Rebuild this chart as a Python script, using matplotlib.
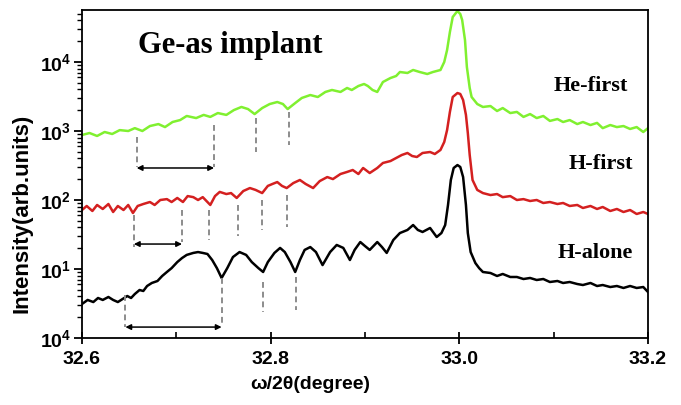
import matplotlib
matplotlib.use('Agg')
import matplotlib.pyplot as plt
from matplotlib.ticker import FixedLocator, LogLocator, NullFormatter, MultipleLocator

plt.rcParams['font.family'] = ['Liberation Sans', 'DejaVu Sans']
plt.rcParams['font.weight'] = 'bold'
plt.rcParams['mathtext.fontset'] = 'custom'
plt.rcParams['mathtext.bf'] = 'Liberation Sans:bold'
plt.rcParams['mathtext.rm'] = 'Liberation Sans:bold'

# He-first (green)
he_x = [32.600, 32.608, 32.616, 32.624, 32.632, 32.640, 32.649, 32.656, 32.664, 32.672,
        32.681, 32.688, 32.696, 32.704, 32.711, 32.721, 32.729, 32.736, 32.744, 32.753,
        32.761, 32.769, 32.776, 32.783, 32.791, 32.799, 32.807, 32.813, 32.818, 32.826,
        32.833, 32.842, 32.850, 32.858, 32.865, 32.874, 32.881, 32.886, 32.893, 32.899,
        32.903, 32.908, 32.913, 32.919, 32.927, 32.933, 32.937, 32.945, 32.951, 32.958,
        32.966, 32.972, 32.980, 32.984, 32.987, 32.990, 32.993, 32.998, 33.001, 33.003,
        33.006, 33.008, 33.011, 33.013, 33.019, 33.025, 33.033, 33.040, 33.046, 33.054,
        33.061, 33.068, 33.075, 33.082, 33.089, 33.096, 33.104, 33.110, 33.117, 33.125,
        33.131, 33.139, 33.146, 33.152, 33.160, 33.167, 33.174, 33.181, 33.188, 33.195,
        33.200]
he_y = [875, 935, 847, 967, 905, 1030, 1000, 1100, 1000, 1180,
        1260, 1140, 1350, 1440, 1650, 1540, 1710, 1600, 1820, 1710,
        2010, 2230, 2080, 1760, 2150, 2460, 2630, 2460, 2080, 2540,
        3010, 3320, 3110, 3680, 3930, 3680, 4200, 3930, 4490, 4800,
        4490, 3930, 3680, 5130, 5860, 6270, 7160, 6930, 7660, 7160,
        6700, 7160, 7660, 10000, 14900, 27200, 44900, 54800, 49600, 40600,
        20800, 8460, 4200, 3110, 2460, 2230, 2300, 1950, 2150, 1820,
        1890, 1600, 1760, 1540, 1650, 1400, 1490, 1350, 1440, 1260,
        1350, 1220, 1310, 1100, 1220, 1140, 1180, 1070, 1140, 967,
        1100]

# H-first (red)
hf_x = [32.600, 32.605, 32.611, 32.616, 32.622, 32.628, 32.633, 32.638, 32.644, 32.649,
        32.654, 32.659, 32.665, 32.672, 32.677, 32.683, 32.690, 32.695, 32.701, 32.707,
        32.712, 32.718, 32.723, 32.728, 32.736, 32.741, 32.746, 32.753, 32.758, 32.764,
        32.771, 32.778, 32.784, 32.791, 32.797, 32.802, 32.807, 32.812, 32.817, 32.824,
        32.831, 32.837, 32.845, 32.852, 32.860, 32.866, 32.874, 32.881, 32.887, 32.893,
        32.898, 32.905, 32.913, 32.919, 32.927, 32.933, 32.939, 32.945, 32.950, 32.955,
        32.961, 32.969, 32.974, 32.980, 32.984, 32.987, 32.990, 32.993, 32.998, 33.001,
        33.004, 33.007, 33.009, 33.011, 33.014, 33.019, 33.025, 33.033, 33.040, 33.046,
        33.054, 33.061, 33.068, 33.075, 33.082, 33.089, 33.096, 33.104, 33.110, 33.117,
        33.125, 33.131, 33.139, 33.146, 33.152, 33.160, 33.167, 33.174, 33.181, 33.188,
        33.195, 33.200]
hf_y = [71.6, 81.9, 69.3, 84.7, 74.1, 87.5, 67.0, 81.9, 71.6, 84.7,
        64.8, 81.9, 87.5, 93.5, 84.7, 100, 103, 93.5, 107, 93.5,
        114, 110, 100, 110, 84.7, 114, 131, 122, 126, 107,
        135, 149, 140, 126, 160, 171, 182, 160, 149, 176,
        195, 171, 149, 188, 215, 201, 238, 255, 272, 238,
        291, 246, 291, 344, 367, 406, 449, 480, 434, 420,
        480, 496, 464, 531, 693, 1030, 1890, 3110, 3550, 3440,
        2810, 1710, 935, 449, 195, 140, 126, 118, 122, 110,
        114, 100, 103, 96.7, 100, 90.5, 93.5, 87.5, 90.5, 81.9,
        84.7, 76.6, 81.9, 74.1, 79.2, 69.3, 74.1, 67.0, 71.6, 62.7,
        67.0, 62.7]

# H-alone (black)
ha_x = [32.600, 32.606, 32.612, 32.617, 32.622, 32.628, 32.633, 32.638, 32.643, 32.648,
        32.652, 32.656, 32.661, 32.665, 32.669, 32.674, 32.680, 32.685, 32.690, 32.695,
        32.701, 32.706, 32.711, 32.718, 32.723, 32.728, 32.733, 32.738, 32.743, 32.748,
        32.754, 32.760, 32.767, 32.774, 32.780, 32.787, 32.792, 32.797, 32.804, 32.810,
        32.815, 32.821, 32.826, 32.831, 32.836, 32.842, 32.848, 32.855, 32.863, 32.870,
        32.877, 32.884, 32.889, 32.895, 32.900, 32.905, 32.913, 32.918, 32.923, 32.930,
        32.937, 32.945, 32.951, 32.956, 32.961, 32.969, 32.976, 32.981, 32.985, 32.988,
        32.991, 32.994, 32.998, 33.001, 33.004, 33.007, 33.009, 33.012, 33.017, 33.021,
        33.025, 33.033, 33.040, 33.046, 33.054, 33.061, 33.068, 33.075, 33.082, 33.089,
        33.096, 33.104, 33.110, 33.117, 33.125, 33.131, 33.139, 33.146, 33.152, 33.160,
        33.167, 33.174, 33.181, 33.188, 33.195, 33.200]
ha_y = [3.11, 3.56, 3.32, 3.80, 3.56, 3.93, 3.56, 3.32, 3.67, 4.06,
        3.80, 4.34, 4.96, 4.80, 5.67, 6.27, 6.70, 7.92, 9.05, 10.3,
        12.6, 14.4, 16.0, 17.1, 17.6, 17.1, 16.5, 13.5, 10.3, 7.41,
        10.3, 14.9, 17.6, 16.0, 12.6, 10.3, 9.05, 12.6, 17.1, 20.2,
        17.6, 12.6, 9.05, 13.5, 18.9, 20.8, 17.6, 11.4, 17.6, 22.3,
        20.2, 13.5, 18.9, 24.6, 21.5, 18.9, 24.6, 20.8, 17.1, 26.3,
        33.2, 36.8, 43.4, 36.8, 34.4, 39.3, 29.1, 33.2, 43.4, 84.7,
        195, 291, 321, 301, 215, 84.7, 33.2, 17.6, 12.2, 10.3,
        9.05, 8.75, 7.92, 8.47, 7.66, 7.66, 7.16, 7.41, 6.93, 7.16,
        6.48, 6.70, 6.27, 6.48, 6.06, 5.86, 6.27, 5.67, 5.86, 5.48,
        5.67, 5.31, 5.67, 5.31, 5.48, 4.64]

# fringe markers: x position, top and bottom of the dashed line
he_marks = [(32.658, 819, 301), (32.740, 1220, 301), (32.784, 1540, 496), (32.819, 1890, 627)]
hf_marks = [(32.655, 60.6, 20.8), (32.706, 71.6, 24.6), (32.735, 71.6, 26.3),
            (32.765, 84.7, 30.1), (32.791, 100, 36.8), (32.817, 118, 40.6)]
ha_marks = [(32.646, 4.20, 1.44), (32.748, 7.41, 1.54), (32.792, 6.48, 2.38), (32.827, 7.66, 2.55)]
# period arrows: x start, x end, y
arrows = [(32.658, 32.740, 291), (32.655, 32.706, 23.0), (32.646, 32.748, 1.44)]

fig = plt.figure(figsize=(6.81, 4.05), dpi=100)
ax = fig.add_axes([82 / 681, 67 / 405, 566 / 681, 328 / 405])

ax.plot(he_x, he_y, color='#80f030', lw=1.8)
ax.plot(hf_x, hf_y, color='#d42020', lw=1.8)
ax.plot(ha_x, ha_y, color='black', lw=1.8)

for x, y0, y1 in he_marks + hf_marks + ha_marks:
    ax.plot([x, x], [y0, y1], color='#8c8c8c', lw=1.4, ls=(0, (3, 2)))

for x0, x1, y in arrows:
    ax.annotate('', xy=(x1, y), xytext=(x0, y),
                arrowprops=dict(arrowstyle='<|-|>', color='black', lw=1.1,
                                mutation_scale=8, shrinkA=0, shrinkB=0))

ax.set_yscale('log')
ax.set_xlim(32.6, 33.2)
ax.set_ylim(1, 56700)

ax.xaxis.set_major_locator(FixedLocator([32.6, 32.8, 33.0, 33.2]))
ax.xaxis.set_minor_locator(MultipleLocator(0.1))
ax.set_xticklabels(['32.6', '32.8', '33.0', '33.2'])

ax.yaxis.set_major_locator(FixedLocator([1, 10, 100, 1000, 10000]))
ax.set_yticklabels([r'$\mathbf{10^4}$', r'$\mathbf{10^1}$', r'$\mathbf{10^2}$',
                    r'$\mathbf{10^3}$', r'$\mathbf{10^4}$'])
ax.yaxis.set_minor_locator(LogLocator(base=10, subs=range(2, 10)))
ax.yaxis.set_minor_formatter(NullFormatter())

ax.tick_params(axis='x', which='major', direction='inout', length=9, width=1.3,
               labelsize=14, pad=5)
ax.tick_params(axis='x', which='minor', direction='in', length=4, width=1.2)
ax.tick_params(axis='y', which='major', direction='out', length=6, width=1.3,
               labelsize=14, pad=2)
ax.tick_params(axis='y', which='minor', direction='out', length=3.5, width=1.0)

for s in ax.spines.values():
    s.set_linewidth(1.3)

ax.set_xlabel('ω/2θ(degree)', fontsize=14, fontweight='bold')
ax.xaxis.set_label_coords(0.403, -0.115)
ax.set_ylabel('Intensity(arb.units)', fontsize=16, fontweight='bold')
ax.yaxis.set_label_coords(-0.087, 0.38)

serif = ['Liberation Serif', 'DejaVu Serif']
ax.text(0.099, 0.893, 'Ge-as implant', transform=ax.transAxes, fontsize=22,
        fontweight='bold', family=serif, va='center', ha='left')
ax.text(0.965, 0.768, 'He-first', transform=ax.transAxes, fontsize=16,
        fontweight='bold', family=serif, va='center', ha='right')
ax.text(0.973, 0.532, 'H-first', transform=ax.transAxes, fontsize=16,
        fontweight='bold', family=serif, va='center', ha='right')
ax.text(0.973, 0.258, 'H-alone', transform=ax.transAxes, fontsize=16,
        fontweight='bold', family=serif, va='center', ha='right')

fig.savefig('out.png', dpi=100)
